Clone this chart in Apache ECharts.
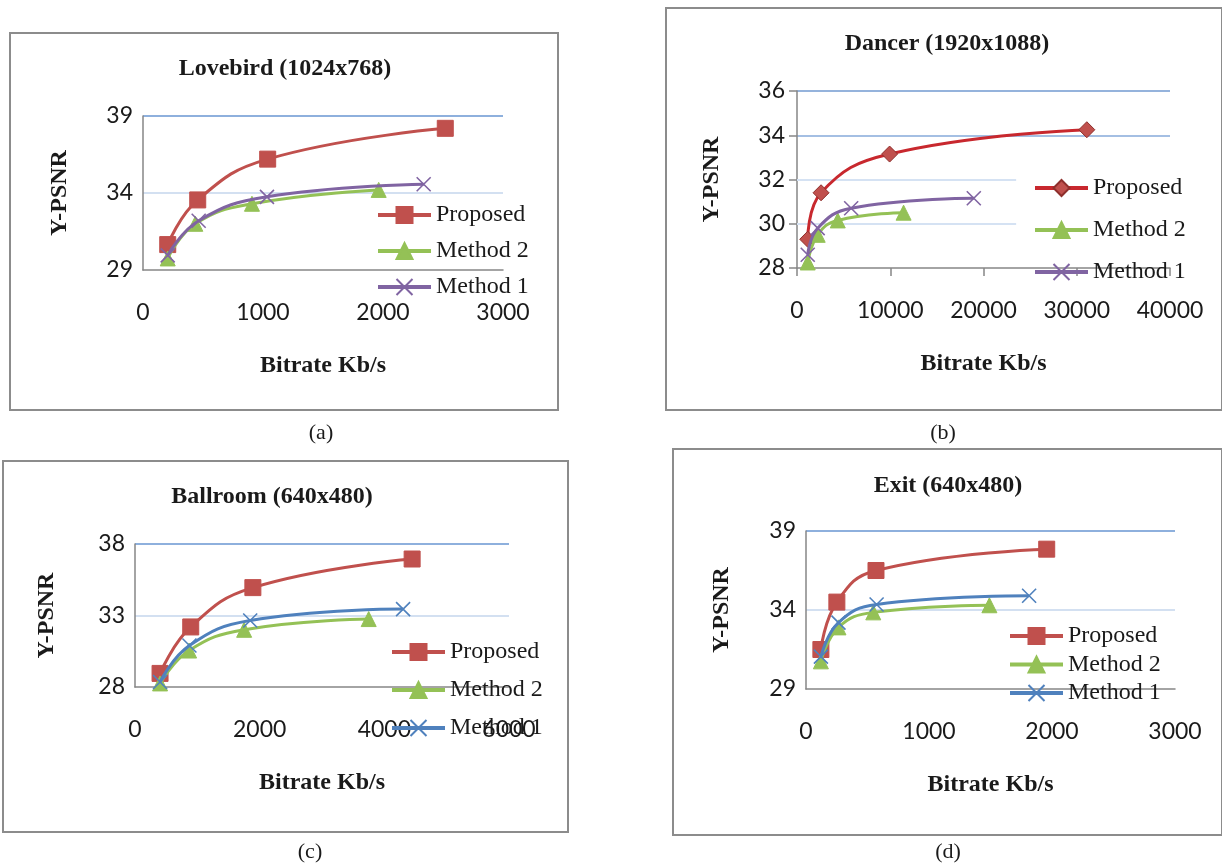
<!DOCTYPE html>
<html>
<head>
<meta charset="utf-8">
<title>Y-PSNR vs Bitrate</title>
<script src="https://cdn.jsdelivr.net/npm/echarts/dist/echarts.min.js"></script>
<style>
  html, body { margin: 0; padding: 0; background: #fff; }
  #main { width: 1222px; height: 864px; }
</style>
</head>
<body>
<div id="main"></div>
<script>
// series names (same order in every panel)
var seriesNames = ['Proposed', 'Method 2', 'Method 1'];

// [bitrate Kb/s, Y-PSNR]
var lovebirdProposed = [[206, 30.65], [456, 33.55], [1039, 36.2], [2519, 38.2]];
var lovebirdMethod2 = [[206, 29.75], [436, 32.0], [908, 33.3], [1964, 34.2]];
var lovebirdMethod1 = [[206, 29.95], [464, 32.2], [1033, 33.75], [2339, 34.57]];

var dancerProposed = [[1150, 29.3], [2580, 31.4], [9930, 33.15], [31080, 34.25]];
var dancerMethod2 = [[1150, 28.25], [2220, 29.5], [4370, 30.15], [11430, 30.5]];
var dancerMethod1 = [[1150, 28.6], [2220, 29.8], [5810, 30.7], [18960, 31.15]];

var ballroomProposed = [[402, 28.95], [894, 32.2], [1891, 34.95], [4446, 36.95]];
var ballroomMethod2 = [[402, 28.25], [868, 30.55], [1751, 32.0], [3749, 32.75]];
var ballroomMethod1 = [[402, 28.35], [873, 30.9], [1848, 32.65], [4301, 33.45]];

var exitProposed = [[121, 31.5], [251, 34.5], [569, 36.5], [1957, 37.85]];
var exitMethod2 = [[121, 30.75], [264, 32.9], [547, 33.85], [1491, 34.3]];
var exitMethod1 = [[121, 31.05], [264, 33.2], [574, 34.35], [1814, 34.9]];

// Dancer: the two lower gridlines stop short of the legend
var dancerShortGrid = [30, 32];
var dancerShortGridEnd = 23500;

var RED = '#C0504D', GREEN = '#94C156', PURPLE = '#8064A2', BLUE = '#4F81BD';
var CROSS = 'path://M0,0L10,10M0,10L10,0';
var serif = 'Liberation Serif';
var sans = 'Lato';
var NONE = 'rgba(0,0,0,0)';

var panels = [
  { key: 'a', title: 'Lovebird (1024x768)', titleX: 285, titleY: 57,
    grid: { left: 143, top: 116, width: 360, height: 154 },
    xMax: 3000, xStep: 1000, yMin: 29, yMax: 39, yStep: 5, yNameGap: 71, ticks: false,
    split: [NONE, '#D3E0F1', '#8EB0DD'],
    legend: { left: 376, top: 203, gap: 12 },
    data: [lovebirdProposed, lovebirdMethod2, lovebirdMethod1],
    m1Color: PURPLE, redSymbol: 'rect', redLine: RED,
    caption: '(a)', capX: 321, capY: 433, frame: [10, 33, 548, 377] },
  { key: 'b', title: 'Dancer (1920x1088)', titleX: 947, titleY: 32,
    grid: { left: 797, top: 91, width: 373, height: 177 },
    xMax: 40000, xStep: 10000, yMin: 28, yMax: 36, yStep: 2, yNameGap: 73, ticks: true,
    split: [NONE, NONE, NONE, '#A4BFE3', '#95B3DC'],
    legend: { left: 1033, top: 176, gap: 18 },
    data: [dancerProposed, dancerMethod2, dancerMethod1],
    m1Color: PURPLE, redSymbol: 'diamond', redLine: '#C8282E',
    caption: '(b)', capX: 943, capY: 433, frame: [666, 8, 556, 402] },
  { key: 'c', title: 'Ballroom (640x480)', titleX: 272, titleY: 485,
    grid: { left: 135, top: 544, width: 374, height: 143 },
    xMax: 6000, xStep: 2000, yMin: 28, yMax: 38, yStep: 5, yNameGap: 76, ticks: false,
    split: [NONE, '#D3E0F1', '#8EB0DD'],
    legend: { left: 390, top: 640, gap: 14 },
    data: [ballroomProposed, ballroomMethod2, ballroomMethod1],
    m1Color: BLUE, redSymbol: 'rect', redLine: RED,
    caption: '(c)', capX: 310, capY: 852, frame: [3, 461, 565, 371] },
  { key: 'd', title: 'Exit (640x480)', titleX: 948, titleY: 474,
    grid: { left: 806, top: 531, width: 369, height: 158 },
    xMax: 3000, xStep: 1000, yMin: 29, yMax: 39, yStep: 5, yNameGap: 72, ticks: false,
    split: [NONE, '#D3E0F1', '#8EB0DD'],
    legend: { left: 1008, top: 624, gap: 4.5 },
    data: [exitProposed, exitMethod2, exitMethod1],
    m1Color: BLUE, redSymbol: 'rect', redLine: RED,
    caption: '(d)', capX: 948, capY: 852, frame: [673, 449, 549, 386] }
];

var myChart = echarts.init(document.getElementById('main'), null, { renderer: 'canvas' });

var option = {
  backgroundColor: '#ffffff',
  animation: false,
  title: [], grid: [], xAxis: [], yAxis: [], legend: [], series: [], graphic: []
};

panels.forEach(function (p, i) {
  option.title.push({
    text: p.title, left: p.titleX, top: p.titleY, textAlign: 'center', padding: 0,
    textStyle: { fontFamily: serif, fontSize: 24, fontWeight: 'bold', color: '#1a1a1a' }
  });
  option.grid.push(Object.assign({ containLabel: false }, p.grid));

  option.xAxis.push({
    gridIndex: i, type: 'value', min: 0, max: p.xMax, interval: p.xStep,
    name: 'Bitrate Kb/s', nameLocation: 'middle', nameGap: 84,
    nameTextStyle: { fontFamily: serif, fontSize: 24, fontWeight: 'bold', color: '#1a1a1a' },
    axisLine: { show: true, lineStyle: { color: '#868686', width: 1.5 } },
    axisTick: { show: p.ticks, length: 8, lineStyle: { color: '#868686', width: 1.5 } },
    axisLabel: { margin: 31, fontFamily: sans, fontSize: 23, color: '#1a1a1a', hideOverlap: false,
                 formatter: function (v) { return String(v); } },
    splitLine: { show: false }
  });

  option.yAxis.push({
    gridIndex: i, type: 'value', min: p.yMin, max: p.yMax, interval: p.yStep,
    name: 'Y-PSNR', nameLocation: 'middle', nameGap: p.yNameGap,
    nameTextStyle: { fontFamily: serif, fontSize: 24, fontWeight: 'bold', color: '#1a1a1a' },
    axisLine: { show: true, lineStyle: { color: '#868686', width: 1.5 } },
    axisTick: { show: p.ticks, length: 8, lineStyle: { color: '#868686', width: 1.5 } },
    axisLabel: { margin: p.ticks ? 12 : 10, fontFamily: sans, fontSize: 23, color: '#1a1a1a' },
    splitLine: { show: true, lineStyle: { color: p.split, width: 2 } }
  });

  var names = seriesNames.map(function (n) { return n + '|' + p.key; });

  option.legend.push({
    orient: 'vertical', left: p.legend.left, top: p.legend.top,
    itemGap: p.legend.gap, itemWidth: 53, itemHeight: 20,
    padding: 0, selectedMode: false,
    data: names,
    lineStyle: { width: 4 },
    formatter: function (n) { return n.split('|')[0]; },
    textStyle: { fontFamily: serif, fontSize: 24, lineHeight: 24, color: '#1a1a1a' }
  });

  var looks = [
    { color: p.redLine, symbol: p.redSymbol, size: 16,
      item: { color: RED, borderColor: p.redSymbol === 'diamond' ? '#8E2F2C' : RED, borderWidth: 1 } },
    { color: GREEN, symbol: 'triangle', size: 15,
      item: { color: GREEN, borderColor: GREEN, borderWidth: 1 } },
    { color: p.m1Color, symbol: CROSS, size: 14,
      item: { color: p.m1Color, borderColor: p.m1Color, borderWidth: 1.6 } }
  ];

  names.forEach(function (n, k) {
    var s = {
      name: n, type: 'line', xAxisIndex: i, yAxisIndex: i,
      data: p.data[k], smooth: 0.45,
      symbol: looks[k].symbol, symbolSize: looks[k].size, showAllSymbol: true,
      lineStyle: { color: looks[k].color, width: 3 },
      itemStyle: looks[k].item,
      z: 3 + k
    };
    if (p.key === 'b' && k === 0) {
      s.markLine = {
        silent: true, symbol: 'none', z: 1, label: { show: false },
        lineStyle: { color: '#D5E2F3', width: 2, type: 'solid' },
        data: dancerShortGrid.map(function (v) {
          return [{ coord: [0, v] }, { coord: [dancerShortGridEnd, v] }];
        })
      };
    }
    option.series.push(s);
  });

  option.graphic.push({
    type: 'rect', z: -10, silent: true,
    shape: { x: p.frame[0], y: p.frame[1], width: p.frame[2], height: p.frame[3] },
    style: { fill: 'none', stroke: '#8c8c8c', lineWidth: 2 }
  });
  option.graphic.push({
    type: 'text', x: p.capX, y: p.capY, silent: true,
    style: { text: p.caption, fontFamily: serif, fontSize: 22, fill: '#1a1a1a',
             textAlign: 'center', textVerticalAlign: 'middle' }
  });
});

myChart.setOption(option);
window.addEventListener('resize', function () {
  myChart.resize();
});
</script>
</body>
</html>
